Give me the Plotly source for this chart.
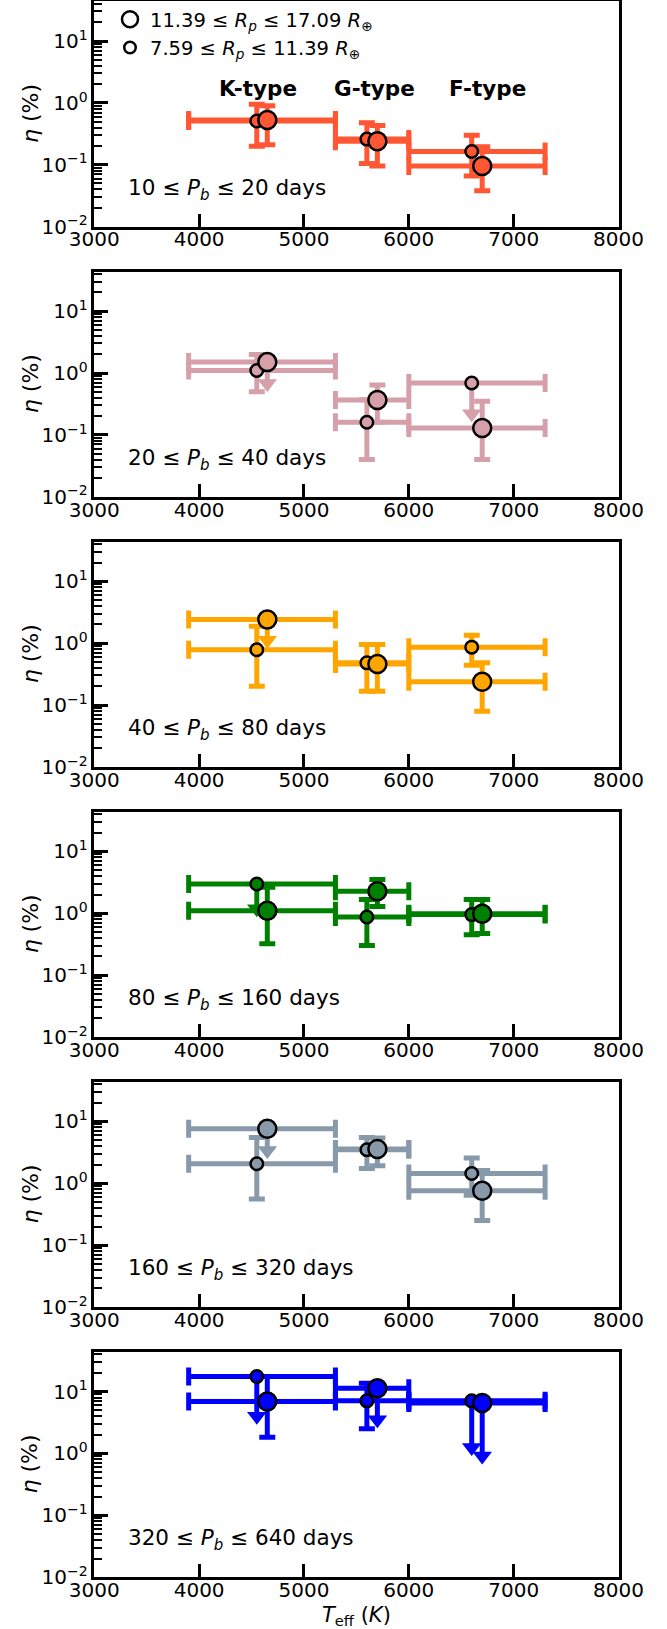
import math
import plotly.graph_objects as go

# ---------------- data ----------------
teff_small = [4550, 5600, 6600]
teff_large = [4650, 5700, 6700]
teff_lo = [3900, 5300, 6000]
teff_hi = [5300, 6000, 7300]
type_labels = ["K-type", "G-type", "F-type"]

period_labels = [
    "10 ≤ <i>P<sub>b</sub></i> ≤ 20 days",
    "20 ≤ <i>P<sub>b</sub></i> ≤ 40 days",
    "40 ≤ <i>P<sub>b</sub></i> ≤ 80 days",
    "80 ≤ <i>P<sub>b</sub></i> ≤ 160 days",
    "160 ≤ <i>P<sub>b</sub></i> ≤ 320 days",
    "320 ≤ <i>P<sub>b</sub></i> ≤ 640 days",
]
colors = ["#FF5733", "#D6A0AA", "#FFA500", "#008000", "#8899AA", "#0000FF"]

# small planets (7.59-11.39 R_earth): value, lower/upper error ends, upper-limit arrow end
eta_small = [[0.51, 0.26, 0.164], [1.1, 0.16, 0.69], [0.78, 0.48, 0.86],
             [2.97, 0.87, 0.95], [2.07, 3.48, 1.44], [17.5, 7.07, 7.07]]
small_lo = [[0.20, 0.105, 0.066], [0.50, 0.040, None], [0.20, 0.167, 0.44],
            [None, 0.30, 0.45], [0.56, 1.74, 0.64], [None, 2.5, None]]
small_hi = [[0.95, 0.48, 0.30], [2.0, 0.37, None], [1.87, 0.95, 1.34],
            [None, 1.66, 1.66], [5.5, 5.5, 2.56], [None, 13.6, None]]
small_uplim = [[None, None, None], [None, None, 0.22], [None, None, None],
               [1.18, None, None], [None, None, None], [4.0, None, 1.25]]

# large planets (11.39-17.09 R_earth)
eta_large = [[0.53, 0.24, 0.096], [1.5, 0.365, 0.129], [2.40, 0.46, 0.237],
             [1.10, 2.26, 0.98], [7.6, 3.57, 0.76], [6.9, 11.3, 6.5]]
large_lo = [[0.21, 0.096, 0.038], [None, 0.16, 0.040], [None, 0.167, 0.079],
            [0.32, 1.28, 0.47], [None, 1.92, 0.25], [1.83, None, None]]
large_hi = [[0.90, 0.43, 0.195], [None, 0.64, 0.35], [None, 0.95, 0.48],
            [2.62, 3.49, 1.66], [None, 5.4, 1.61], [17.5, None, None]]
large_uplim = [[None, None, None], [0.68, None, None], [1.11, None, None],
               [None, None, None], [3.4, None, None], [None, 3.5, 0.91]]

legend_names = ["11.39 ≤ <i>R<sub>p</sub></i> ≤ 17.09 <i>R</i><sub>⊕</sub>",
                "7.59 ≤ <i>R<sub>p</sub></i> ≤ 11.39 <i>R</i><sub>⊕</sub>"]

ytick_vals = [0.01, 0.1, 1, 10]
ytick_text = ["10<sup>−2</sup>", "10<sup>−1</sup>", "10<sup>0</sup>", "10<sup>1</sup>"]
xtick_vals = [3000, 4000, 5000, 6000, 7000, 8000]

# ---------------- layout geometry ----------------
W, H = 667, 1629
X0, X1 = 94.3, 618.5
TOP0, BOT0, STEP = 1.4, 226.7, 270.1
FONT = "DejaVu Sans"
EW = 5

fig = go.Figure()

for p in range(6):
    xa = "x" if p == 0 else f"x{p+1}"
    ya = "y" if p == 0 else f"y{p+1}"
    col = colors[p]
    groups = [(teff_small, eta_small[p], small_lo[p], small_hi[p], small_uplim[p]),
              (teff_large, eta_large[p], large_lo[p], large_hi[p], large_uplim[p])]
    # error bars (points with measured values)
    for teff, eta, lo, hi, ul in groups:
        idx = [i for i in range(3) if lo[i] is not None]
        if idx:
            fig.add_trace(go.Scatter(
                x=[teff[i] for i in idx], y=[eta[i] for i in idx], mode="markers",
                marker=dict(size=1, color="rgba(0,0,0,0)"),
                error_x=dict(type="data", symmetric=False,
                             array=[teff_hi[i] - teff[i] for i in idx],
                             arrayminus=[teff[i] - teff_lo[i] for i in idx],
                             color=col, thickness=EW, width=9),
                error_y=dict(type="data", symmetric=False,
                             array=[hi[i] - eta[i] for i in idx],
                             arrayminus=[eta[i] - lo[i] for i in idx],
                             color=col, thickness=EW, width=8),
                xaxis=xa, yaxis=ya, showlegend=False, hoverinfo="skip"))
        idu = [i for i in range(3) if ul[i] is not None]
        if idu:
            fig.add_trace(go.Scatter(
                x=[teff[i] for i in idu], y=[eta[i] for i in idu], mode="markers",
                marker=dict(size=1, color="rgba(0,0,0,0)"),
                error_x=dict(type="data", symmetric=False,
                             array=[teff_hi[i] - teff[i] for i in idu],
                             arrayminus=[teff[i] - teff_lo[i] for i in idu],
                             color=col, thickness=EW, width=9),
                xaxis=xa, yaxis=ya, showlegend=False, hoverinfo="skip"))
    # upper-limit arrows
    for teff, eta, lo, hi, ul in groups:
        for i in range(3):
            if ul[i] is not None:
                fig.add_trace(go.Scatter(
                    x=[teff[i], teff[i]], y=[eta[i], ul[i]], mode="lines",
                    line=dict(color=col, width=EW),
                    xaxis=xa, yaxis=ya, showlegend=False, hoverinfo="skip"))
                fig.add_trace(go.Scatter(
                    x=[teff[i]], y=[ul[i]], mode="markers",
                    marker=dict(symbol="triangle-down", size=17, color=col, line=dict(width=0)),
                    xaxis=xa, yaxis=ya, showlegend=False, hoverinfo="skip"))
    # markers: small first, then large
    fig.add_trace(go.Scatter(
        x=teff_small, y=eta_small[p], mode="markers",
        marker=dict(size=12.5, color=col, line=dict(color="black", width=2.5)),
        xaxis=xa, yaxis=ya, showlegend=False, hoverinfo="skip"))
    fig.add_trace(go.Scatter(
        x=teff_large, y=eta_large[p], mode="markers",
        marker=dict(size=18, color=col, line=dict(color="black", width=2.5)),
        xaxis=xa, yaxis=ya, showlegend=False, hoverinfo="skip"))

# legend entries
fig.add_trace(go.Scatter(x=[None], y=[None], mode="markers", name=legend_names[0],
                         marker=dict(size=16, color="white", line=dict(color="black", width=2.5)),
                         xaxis="x", yaxis="y", showlegend=True))
fig.add_trace(go.Scatter(x=[None], y=[None], mode="markers", name=legend_names[1],
                         marker=dict(size=11.5, color="white", line=dict(color="black", width=2.5)),
                         xaxis="x", yaxis="y", showlegend=True))

layout = dict(
    width=W, height=H, margin=dict(l=0, r=0, t=0, b=0, pad=0, autoexpand=False),
    paper_bgcolor="white", plot_bgcolor="white",
    font=dict(family=FONT, size=20, color="black"),
    legend=dict(x=110 / W, y=1.0, xanchor="left", yanchor="top",
                bgcolor="rgba(0,0,0,0)", borderwidth=0, itemsizing="trace",
                font=dict(family=FONT, size=19.5, color="black"), tracegroupgap=0),
    showlegend=True,
)

annotations = []
for p in range(6):
    top = TOP0 + STEP * p
    bot = BOT0 + STEP * p
    xk = "xaxis" if p == 0 else f"xaxis{p+1}"
    yk = "yaxis" if p == 0 else f"yaxis{p+1}"
    xa = "x" if p == 0 else f"x{p+1}"
    ya = "y" if p == 0 else f"y{p+1}"
    layout[xk] = dict(
        domain=[X0 / W, X1 / W], anchor=ya, range=[3000, 8000], automargin=False,
        tickmode="array", tickvals=xtick_vals, ticktext=[str(v) for v in xtick_vals],
        ticks="inside", ticklen=13, tickwidth=3, tickcolor="black", ticklabelstandoff=-7,
        showline=True, linecolor="black", linewidth=2.5, mirror=True,
        showgrid=False, zeroline=False, tickfont=dict(size=20, family=FONT))
    layout[yk] = dict(
        domain=[1 - bot / H, 1 - top / H], anchor=xa, type="log", automargin=False,
        range=[-2, 1.64], tickmode="array", tickvals=ytick_vals, ticktext=ytick_text,
        ticks="inside", ticklen=14, tickwidth=3, tickcolor="black",
        minor=dict(ticks="inside", ticklen=8, tickwidth=2, tickcolor="black",
                   dtick="D1", showgrid=False),
        showline=True, linecolor="black", linewidth=2.5, mirror=True,
        showgrid=False, zeroline=False, tickfont=dict(size=20, family=FONT))
    annotations.append(dict(
        text=period_labels[p], xref=f"{xa} domain", yref=f"{ya} domain",
        x=(125.5 - X0) / (X1 - X0), y=37.7 / (bot - top), xanchor="left", yanchor="middle",
        showarrow=False, font=dict(size=21.5, family=FONT, color="black")))
    annotations.append(dict(
        text="<i>η</i> (%)", xref="paper", yref=f"{ya} domain",
        x=30 / W, y=0.5, xanchor="center", yanchor="middle", textangle=-90,
        showarrow=False, font=dict(size=22, family=FONT, color="black")))

for lbl, xv in zip(type_labels, [4565, 5670, 6750]):
    annotations.append(dict(
        text=f"<b>{lbl}</b>", xref="x", yref="y", x=xv, y=math.log10(1.7),
        xanchor="center", yanchor="middle", showarrow=False,
        font=dict(size=21.5, family=FONT, color="black")))

annotations.append(dict(
    text="<i>T</i><sub>eff</sub> (<i>K</i>)", xref="x6 domain", yref="paper",
    x=0.5, y=1 - 1616 / H, xanchor="center", yanchor="middle", showarrow=False,
    font=dict(size=21, family=FONT, color="black")))

layout["annotations"] = annotations
fig.update_layout(**layout)
fig.write_html("out.html")
